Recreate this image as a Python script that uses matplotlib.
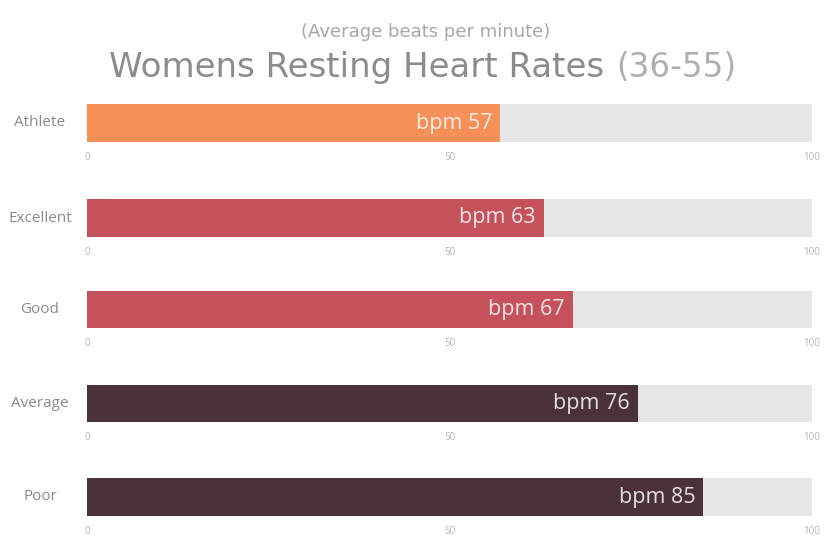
import matplotlib
matplotlib.use("Agg")
import matplotlib.pyplot as plt

categories = ["Athlete", "Excellent", "Good", "Average", "Poor"]
values = [57, 63, 67, 76, 85]
bar_colors = ["#F68F58", "#C5515B", "#C5515B", "#4B3239", "#4B3239"]
ticks = [0, 50, 100]

W, H = 831, 551
fig = plt.figure(figsize=(W / 100, H / 100), dpi=100)
fig.patch.set_facecolor("white")
plt.rcParams["font.family"] = ["Open Sans", "DejaVu Sans"]

# bar rows in pixel coords (top, bottom)
rows = [(104, 142), (199, 237), (291, 328), (385, 422), (478, 516)]
x0, x1 = 87, 812

for cat, val, col, (top, bot) in zip(categories, values, bar_colors, rows):
    ax = fig.add_axes([x0 / W, 1 - bot / H, (x1 - x0) / W, (bot - top) / H])
    ax.barh([0], [100], height=1, color="#E6E6E6", zorder=1)
    ax.barh([0], [val], height=1, color=col, zorder=2)
    ax.set_xlim(0, 100)
    ax.set_ylim(-0.5, 0.5)
    ax.set_yticks([])
    ax.set_xticks(ticks)
    ax.set_xticklabels([str(t) for t in ticks])
    ax.tick_params(axis="x", length=0, pad=7, labelsize=7, labelcolor="#B5B5B5")
    for sp in ax.spines.values():
        sp.set_visible(False)
    ax.text(val - 1.1, 0, f"bpm {val}", ha="right", va="center", fontsize=15.5,
            color="white", alpha=0.85, zorder=3)
    fig.text(40 / W, 1 - (top + bot) / 2 / H, cat, ha="center", va="center",
             fontsize=11, color="#8A8A8A")

title_font = ["DejaVu Sans"]
fig.text(426 / W, 1 - 32 / H, "(Average beats per minute)", ha="center", va="center",
         fontsize=13, color="#A8A8A8", family=title_font)
fig.text(604 / W, 1 - 77 / H, "Womens Resting Heart Rates", ha="right", va="baseline",
         fontsize=24.5, color="#8C8C8C", family=title_font)
fig.text(616 / W, 1 - 77 / H, "(36-55)", ha="left", va="baseline",
         fontsize=23.5, color="#B0B0B0", family=title_font)

fig.savefig("out.png", dpi=100)
